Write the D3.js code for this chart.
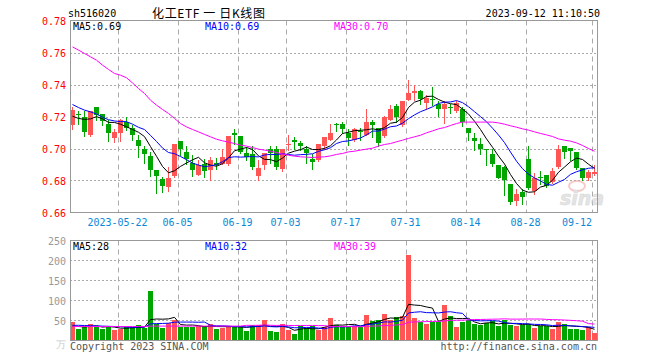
<!DOCTYPE html>
<html><head><meta charset="utf-8">
<script src="https://cdn.jsdelivr.net/npm/d3@7"></script>
<style>
html,body{margin:0;padding:0;background:#fff;}
svg{display:block;}
text{font-family:"DejaVu Sans Mono","Liberation Mono",monospace;font-size:10px;}
</style></head>
<body>
<svg id="chart" width="660" height="360"></svg>
<script>
// ---------- DATA ----------
const dates = ["05-10","05-11","05-12","05-15","05-16","05-17","05-18","05-19","05-22","05-23","05-24","05-25","05-26","05-29","05-30","05-31",
"06-01","06-02","06-05","06-06","06-07","06-08","06-09","06-12","06-13","06-14","06-15","06-16","06-19","06-20","06-21","06-26","06-27","06-28","06-29","06-30",
"07-03","07-04","07-05","07-06","07-07","07-10","07-11","07-12","07-13","07-14","07-17","07-18","07-19","07-20","07-21","07-24","07-25","07-26","07-27","07-28","07-31",
"08-01","08-02","08-03","08-04","08-07","08-08","08-09","08-10","08-11","08-14","08-15","08-16","08-17","08-18","08-21","08-22","08-23","08-24","08-25","08-28","08-29","08-30","08-31",
"09-01","09-04","09-05","09-06","09-07","09-08","09-11","09-12"];

const open = [0.7150,0.7218,0.7196,0.7083,0.7258,0.7215,0.7152,0.7067,0.7098,0.7167,
0.7129,0.7052,0.7000,0.6952,0.6865,0.6810,0.6760,0.6827,0.7046,0.6979,
0.6910,0.6836,0.6906,0.6865,0.6910,0.6902,0.6902,0.7096,0.7077,0.6975,
0.6963,0.6827,0.6900,0.7000,0.7000,0.6869,0.7025,0.7052,0.7033,0.7000,
0.6933,0.6927,0.7015,0.7052,0.7154,0.7152,0.7098,0.7052,0.7112,0.7083,
0.7167,0.7127,0.7077,0.7177,0.7265,0.7148,0.7306,0.7348,0.7358,0.7285,
0.7310,0.7277,0.7246,0.7262,0.7235,0.7250,0.7131,0.7065,0.7027,0.7000,
0.6963,0.6894,0.6885,0.6777,0.6673,0.6727,0.6933,0.6735,0.6819,0.6833,
0.6792,0.6885,0.7015,0.7006,0.6977,0.6879,0.6813,0.6842];

const close = [0.7240,0.7212,0.7104,0.7233,0.7208,0.7171,0.7100,0.7102,0.7177,0.7131,
0.7083,0.7015,0.6967,0.6865,0.6827,0.6765,0.6817,0.7031,0.7000,0.6933,
0.6865,0.6896,0.6860,0.6927,0.6898,0.6944,0.7077,0.7083,0.6979,0.6948,
0.6883,0.6877,0.6975,0.6969,0.6885,0.6996,0.7029,0.7038,0.7015,0.6969,
0.6917,0.7027,0.7075,0.7098,0.7150,0.7119,0.7067,0.7125,0.7108,0.7167,
0.7148,0.7035,0.7194,0.7246,0.7198,0.7296,0.7348,0.7360,0.7308,0.7313,
0.7306,0.7246,0.7277,0.7258,0.7285,0.7167,0.7094,0.7048,0.6998,0.6994,
0.6906,0.6817,0.6802,0.6667,0.6715,0.6698,0.6750,0.6817,0.6815,0.6767,
0.6858,0.7000,0.6979,0.6983,0.6879,0.6817,0.6850,0.6850];

const high = [0.7260,0.7235,0.7235,0.7237,0.7258,0.7215,0.7177,0.7125,0.7183,0.7196,
0.7146,0.7083,0.7015,0.6979,0.6865,0.6819,0.6885,0.7031,0.7046,0.7015,
0.6958,0.6931,0.6933,0.6944,0.6938,0.7000,0.7077,0.7119,0.7077,0.7010,
0.7015,0.6927,0.6975,0.7015,0.7015,0.6996,0.7083,0.7069,0.7046,0.7015,
0.6963,0.7027,0.7075,0.7152,0.7160,0.7167,0.7119,0.7131,0.7131,0.7246,
0.7181,0.7127,0.7202,0.7271,0.7281,0.7296,0.7427,0.7400,0.7365,0.7333,
0.7385,0.7296,0.7296,0.7281,0.7298,0.7260,0.7131,0.7098,0.7063,0.7000,
0.7000,0.6894,0.6890,0.6777,0.6744,0.6744,0.7015,0.6844,0.6858,0.6833,
0.6879,0.7025,0.7015,0.7006,0.6977,0.6879,0.6865,0.6900];

const low = [0.7120,0.7155,0.7079,0.7079,0.7177,0.7146,0.7046,0.7042,0.7046,0.7115,
0.7052,0.6948,0.6910,0.6827,0.6723,0.6729,0.6735,0.6823,0.6958,0.6906,
0.6827,0.6832,0.6823,0.6802,0.6871,0.6902,0.6896,0.7027,0.6969,0.6931,
0.6873,0.6802,0.6873,0.6910,0.6873,0.6860,0.6990,0.6996,0.6990,0.6910,
0.6873,0.6923,0.7000,0.7052,0.7110,0.7098,0.7025,0.7046,0.7056,0.7083,
0.7073,0.7015,0.7069,0.7177,0.7167,0.7142,0.7306,0.7306,0.7281,0.7250,
0.7271,0.7202,0.7160,0.7223,0.7229,0.7140,0.7052,0.6990,0.6965,0.6900,
0.6890,0.6813,0.6708,0.6652,0.6644,0.6652,0.6746,0.6715,0.6781,0.6760,
0.6785,0.6879,0.6942,0.6927,0.6869,0.6802,0.6802,0.6833];

const volume = [45.6,29,34,42,34,28,37,26.5,29,33,
34,40,31.5,122.7,40.6,31.5,44,50.6,33,33,
33,36.5,36.5,40.6,28,31.5,36.5,36.5,36.5,23,
40,40,52,23,21,42,25.7,15.8,36.5,31.5,
36.5,27,34,57,40,34,34,37,34,63,
49,52,65.5,52,59,60.5,214.7,57,46.4,40.6,
46.4,46.4,88,60.5,33,45.6,50.6,42,38,44,
48,35.6,50.6,38,35.6,40,42,31.5,35.6,35.6,
29,45.6,42,30,30,26,35,19];

// moving-average values read from the picture where earlier history is not shown
const ma5Head = [0.7202,0.7188,0.7182,0.7185];
const ma10Head = [0.7275,0.7256,0.7240,0.7229,0.7215,0.7196,0.7180,0.7172,0.7168];
const ma30 = [0.7635,0.7615,0.7594,0.7573,0.7552,0.7521,0.7494,0.7469,0.7458,0.7442,
0.7410,0.7375,0.7344,0.7302,0.7271,0.7244,0.7219,0.7188,0.7156,0.7135,
0.7119,0.7104,0.7088,0.7073,0.7058,0.7048,0.7040,0.7031,0.7021,0.7015,
0.7006,0.6996,0.6990,0.6983,0.6975,0.6965,0.6958,0.6952,0.6948,0.6946,
0.6944,0.6946,0.6948,0.6954,0.6963,0.6969,0.6979,0.6983,0.6990,0.6996,
0.7002,0.7015,0.7025,0.7031,0.7042,0.7052,0.7063,0.7073,0.7083,0.7098,
0.7110,0.7123,0.7131,0.7144,0.7156,0.7165,0.7165,0.7165,0.7165,0.7165,
0.7165,0.7160,0.7152,0.7142,0.7133,0.7123,0.7115,0.7104,0.7094,0.7085,
0.7075,0.7060,0.7052,0.7046,0.7035,0.7019,0.7000,0.6983];
const volMa5Head = [36,35,34,35];
const volMa10Head = [38,38,37.5,37,36.5,36,35.5,35,34.5];
const volMa30Head = [35,35,35,35,35,35,35,35,35,35,35,35,35,36,36,36,36,36,36,36,36,36,36,36,36,36,36,36,36];

const tickDates = ["05-22","06-05","06-19","07-03","07-17","07-31","08-14","08-28","09-12"];
const tickLabels = ["2023-05-22","06-05","06-19","07-03","07-17","07-31","08-14","08-28","09-12"];
const priceTicks = [0.78,0.76,0.74,0.72,0.70,0.68,0.66];
const volTicks = [250,200,150,100,50];

const symbol = "sh516020";
const title = "化工ETF 一 日K线图";
const stamp = "2023-09-12 11:10:50";
const legendPrice = ["MA5:0.69","MA10:0.69","MA30:0.70"];
const legendVol = ["MA5:28","MA10:32","MA30:39"];

// ---------- HELPERS ----------
function movingAvg(arr, n, head){
  return arr.map((v,i)=> i < n-1 ? head[i] : d3.mean(arr.slice(i-n+1,i+1)));
}
const ma5 = movingAvg(close,5,ma5Head);
const ma10 = movingAvg(close,10,ma10Head);
const vma5 = movingAvg(volume,5,volMa5Head);
const vma10 = movingAvg(volume,10,volMa10Head);
const vma30 = movingAvg(volume,30,volMa30Head);

// ---------- LAYOUT ----------
const L = 70, R = 598;
const RED = "#ff5555", GREEN = "#00a600", GRID = "#aaaaaa";
const svg = d3.select("#chart");
svg.append("rect").attr("width",660).attr("height",360).attr("fill","#fff");

const x = d3.scaleLinear().domain([0, dates.length-1]).range([72.5, 72.5 + 6*(dates.length-1)]);
const y = d3.scaleLinear().domain([0.66,0.78]).range([212.5,20.5]);
const yv = d3.scaleLinear().domain([0,250]).range([340.5,240.5]);
const up = d => close[d] >= open[d];
const idx = d3.range(dates.length);

// header
svg.append("text").attr("x",68).attr("y",17).attr("fill","#000").text(symbol);
svg.append("text").attr("x",152).attr("y",18).attr("fill","#000")
  .attr("textLength",113).attr("lengthAdjust","spacing").attr("xml:space","preserve")
  .style("font-family","'Noto Sans CJK SC',sans-serif").style("font-size","12px").text(title);
svg.append("text").attr("x",600).attr("y",17).attr("text-anchor","end").attr("fill","#000").text(stamp);

// price panel grid
svg.append("g").selectAll("line").data(priceTicks.slice(1,-1)).join("line")
  .attr("x1",L).attr("x2",R).attr("y1",d=>Math.round(y(d))+0.5).attr("y2",d=>Math.round(y(d))+0.5)
  .attr("stroke",GRID).attr("stroke-dasharray","2,2");
const tickIdx = tickDates.map(t=>dates.indexOf(t));
[[20.5,212.5],[240.5,340.5]].forEach(([a,b])=>{
  svg.append("g").selectAll("line").data(tickIdx).join("line")
    .attr("x1",d=>x(d)-2).attr("x2",d=>x(d)-2).attr("y1",a).attr("y2",b)
    .attr("stroke",GRID).attr("stroke-dasharray","5,4");
});
// price labels
svg.append("g").selectAll("text").data(priceTicks).join("text")
  .attr("x",66).attr("y",d=>y(d)+4).attr("text-anchor","end").attr("fill","#ff0000")
  .text(d=>d.toFixed(2));

// x labels (kept inside the plot on the right)
svg.append("g").selectAll("text").data(tickIdx).join("text")
  .attr("x",(d,i)=>Math.min(x(d)-3, 592 - tickLabels[i].length*3))
  .attr("y",226).attr("text-anchor","middle").attr("fill","#0a88d8")
  .text((d,i)=>tickLabels[i]);

// sina watermark
const wm = svg.append("g").attr("opacity",0.55);
wm.append("ellipse").attr("cx",577).attr("cy",186).attr("rx",8).attr("ry",5)
  .attr("fill","none").attr("stroke","#f2a0a0").attr("stroke-width",2);
wm.append("text").attr("x",560).attr("y",205).attr("fill","#cfcfcf").attr("stroke","#bbbbbb")
  .attr("stroke-width",0.6).style("font-family","'DejaVu Sans',sans-serif").style("font-size","19px")
  .style("font-style","italic").style("font-weight","bold").text("sina");

// candles
const gC = svg.append("g");
gC.selectAll("line").data(idx).join("line")
  .attr("x1",d=>x(d)).attr("x2",d=>x(d))
  .attr("y1",d=>Math.round(y(high[d]))).attr("y2",d=>Math.round(y(low[d]))+1)
  .attr("stroke",d=>up(d)?RED:GREEN).attr("stroke-width",1);
gC.selectAll("rect").data(idx).join("rect")
  .attr("x",d=>x(d)-2.5).attr("width",5)
  .attr("y",d=>Math.round(y(Math.max(open[d],close[d]))))
  .attr("height",d=>Math.max(1,Math.round(y(Math.min(open[d],close[d])))-Math.round(y(Math.max(open[d],close[d])))))
  .attr("fill",d=>up(d)?RED:GREEN);

// MA lines price
const lineP = d3.line().x((d,i)=>x(i)).y(d=>y(d));
[[ma5,"#000000"],[ma10,"#0000ff"],[ma30,"#ff00ff"]].forEach(([arr,c])=>{
  svg.append("path").attr("d",lineP(arr)).attr("fill","none").attr("stroke",c).attr("stroke-width",1);
});

// price frame
svg.append("rect").attr("x",L+0.5).attr("y",20.5).attr("width",R-L-1).attr("height",192)
  .attr("fill","none").attr("stroke","#999").attr("stroke-width",1);

// price legend
[[73,"#000"],[205,"#0000ff"],[334,"#ff00ff"]].forEach(([px,c],i)=>{
  svg.append("text").attr("x",px).attr("y",30).attr("fill",c).text(legendPrice[i]);
});

// volume grid
svg.append("g").selectAll("line").data(volTicks.slice(1)).join("line")
  .attr("x1",L).attr("x2",R).attr("y1",d=>yv(d)).attr("y2",d=>yv(d))
  .attr("stroke",GRID).attr("stroke-dasharray","2,2");
svg.append("g").selectAll("text").data(volTicks).join("text")
  .attr("x",66).attr("y",d=>yv(d)+4).attr("text-anchor","end").attr("fill","#999").text(d=>d);
svg.append("text").attr("x",66).attr("y",348).attr("text-anchor","end").attr("fill","#ccc").text("万");

// volume bars
svg.append("g").selectAll("rect").data(idx).join("rect")
  .attr("x",d=>x(d)-2.5).attr("width",5)
  .attr("y",d=>Math.round(yv(volume[d])))
  .attr("height",d=>340.5-Math.round(yv(volume[d])))
  .attr("fill",d=>up(d)?RED:GREEN);
const lineV = d3.line().x((d,i)=>x(i)).y(d=>yv(d));
[[vma5,"#000000"],[vma10,"#0000ff"],[vma30,"#ff00ff"]].forEach(([arr,c])=>{
  svg.append("path").attr("d",lineV(arr)).attr("fill","none").attr("stroke",c).attr("stroke-width",1);
});
svg.append("rect").attr("x",L+0.5).attr("y",240.5).attr("width",R-L-1).attr("height",100)
  .attr("fill","none").attr("stroke","#999").attr("stroke-width",1);
[[73,"#000"],[205,"#0000ff"],[334,"#ff00ff"]].forEach(([px,c],i)=>{
  svg.append("text").attr("x",px).attr("y",250).attr("fill",c).text(legendVol[i]);
});

// footer
svg.append("text").attr("x",70).attr("y",350).attr("fill","#555").text("Copyright 2023 SINA.COM");
svg.append("text").attr("x",597).attr("y",350).attr("text-anchor","end").attr("fill","#555").text("http://finance.sina.com.cn");
</script>
</body></html>
